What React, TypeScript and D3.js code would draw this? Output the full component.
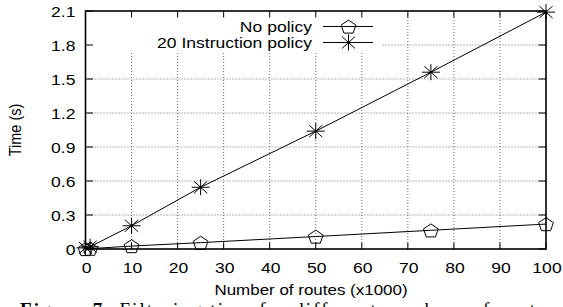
import React from "react";
import * as d3 from "d3";

// routes (x1000)
const routes = [0, 1, 10, 25, 50, 75, 100];
// time (s)
const noPolicy = [0.0, 0.003, 0.026, 0.056, 0.11, 0.165, 0.22];
const instrPolicy = [0.01, 0.02, 0.205, 0.545, 1.04, 1.56, 2.09];

const xTicks = [0, 10, 20, 30, 40, 50, 60, 70, 80, 90, 100];
const yTicks = [0, 0.3, 0.6, 0.9, 1.2, 1.5, 1.8, 2.1];
const yTickLabels = ["0", "0.3", "0.6", "0.9", "1.2", "1.5", "1.8", "2.1"];

const W = 563;
const H = 307;
const left = 85.5;
const right = 546;
const top = 11;
const bottom = 249;
const SX = 1.17; // glyphs look horizontally stretched
const FONT = "'Liberation Sans', Arial, Helvetica, sans-serif";

function Pentagon({ x, y }: { x: number; y: number }) {
  const r = 7.2;
  const pts = d3.range(5).map((i) => {
    const a = -Math.PI / 2 + (i * 2 * Math.PI) / 5;
    return [x + Math.cos(a) * r * 1.08, y + Math.sin(a) * r + 0.8];
  });
  return <polygon points={pts.map((p) => p.join(",")).join(" ")} fill="none" stroke="#000" strokeWidth={1} />;
}

function Star({ x, y }: { x: number; y: number }) {
  const h = 9;
  const v = 8;
  const d = 6.6;
  const dv = 6;
  return (
    <g stroke="#000" strokeWidth={1}>
      <line x1={x - h} y1={y} x2={x + h} y2={y} />
      <line x1={x} y1={y - v} x2={x} y2={y + v} />
      <line x1={x - d} y1={y - dv} x2={x + d} y2={y + dv} />
      <line x1={x - d} y1={y + dv} x2={x + d} y2={y - dv} />
      <circle cx={x} cy={y} r={1.3} fill="#000" stroke="none" />
    </g>
  );
}

function Txt({ x, y, anchor, children, size = 15 }: any) {
  return (
    <text
      transform={`translate(${x},${y}) scale(${SX},1)`}
      textAnchor={anchor}
      fontFamily={FONT}
      fontSize={size}
      fill="#000"
    >
      {children}
    </text>
  );
}

export default function App() {
  const x = d3.scaleLinear().domain([0, 100]).range([left, right]);
  const y = d3.scaleLinear().domain([0, 2.1]).range([bottom, top]);
  const line = d3
    .line<number>()
    .x((_, i) => x(routes[i]))
    .y((d) => y(d));

  const legendTextX = 312;
  const sampleX1 = 323;
  const sampleX2 = 373;
  const sampleMid = 348.5;
  const row1 = 26.5;
  const row2 = 42.5;

  return (
    <div>
      <style>{`body{margin:0}`}</style>
      <svg width={W} height={H} style={{ display: "block" }}>
        <rect width={W} height={H} fill="#fff" />

        {/* grid */}
        <g stroke="#444" strokeWidth={0.8} strokeDasharray="1,2">
          {xTicks.slice(1, -1).map((t) => (
            <line key={"gx" + t} x1={x(t)} x2={x(t)} y1={top} y2={bottom} />
          ))}
          {yTicks.slice(1, -1).map((t) => (
            <line key={"gy" + t} x1={left} x2={right} y1={y(t)} y2={y(t)} />
          ))}
        </g>
        {/* legend box blanks the grid */}
        <rect x={left + 1} y={top + 1} width={380 - left} height={52 - top} fill="#fff" />

        {/* ticks, mirrored on all sides */}
        <g stroke="#000" strokeWidth={1}>
          {xTicks.map((t) => (
            <g key={"tx" + t}>
              <line x1={x(t)} x2={x(t)} y1={bottom} y2={bottom - 6.5} />
              <line x1={x(t)} x2={x(t)} y1={top} y2={top + 6.5} />
            </g>
          ))}
          {yTicks.map((t) => (
            <g key={"ty" + t}>
              <line x1={left} x2={left + 7.5} y1={y(t)} y2={y(t)} />
              <line x1={right} x2={right - 7.5} y1={y(t)} y2={y(t)} />
            </g>
          ))}
        </g>

        {/* series */}
        <path d={line(noPolicy) || ""} fill="none" stroke="#000" strokeWidth={1} />
        <path d={line(instrPolicy) || ""} fill="none" stroke="#000" strokeWidth={1} />
        {noPolicy.map((v, i) => (
          <Pentagon key={"p" + i} x={x(routes[i])} y={y(v)} />
        ))}
        {instrPolicy.map((v, i) => (
          <Star key={"s" + i} x={x(routes[i])} y={y(v)} />
        ))}

        {/* frame */}
        <rect x={left} y={top} width={right - left} height={bottom - top} fill="none" stroke="#000" strokeWidth={1.6} />

        {/* tick labels */}
        {xTicks.map((t) => (
          <Txt key={"lx" + t} x={x(t) + 1} y={273} anchor="middle">
            {String(t)}
          </Txt>
        ))}
        {yTicks.map((t, i) => (
          <Txt key={"ly" + t} x={75.5} y={y(t) + 5.5} anchor="end">
            {yTickLabels[i]}
          </Txt>
        ))}

        {/* axis titles */}
        <Txt x={311} y={295} anchor="middle" size={14.5}>
          Number of routes (x1000)
        </Txt>
        <text
          transform={`translate(21,130) scale(${SX},1) rotate(-90)`}
          textAnchor="middle"
          fontFamily={FONT}
          fontSize={14.5}
        >
          Time (s)
        </text>

        {/* legend */}
        <Txt x={legendTextX} y={row1 + 5.2} anchor="end">
          No policy
        </Txt>
        <Txt x={legendTextX} y={row2 + 5.2} anchor="end">
          20 Instruction policy
        </Txt>
        <line x1={sampleX1} x2={sampleX2} y1={row1} y2={row1} stroke="#000" strokeWidth={1} />
        <Pentagon x={sampleMid} y={row1} />
        <line x1={sampleX1} x2={sampleX2} y1={row2} y2={row2} stroke="#000" strokeWidth={1} />
        <Star x={sampleMid} y={row2} />

        {/* caption, cut off by the page edge */}
        <text
          x={20}
          y={315.5}
          fontFamily="'Liberation Serif', 'Times New Roman', serif"
          fontSize={19}
          textLength={535}
          lengthAdjust="spacing"
        >
          <tspan fontWeight="bold">Figure 7:</tspan> Filtering time for different numbers of routes
        </text>
      </svg>
    </div>
  );
}
